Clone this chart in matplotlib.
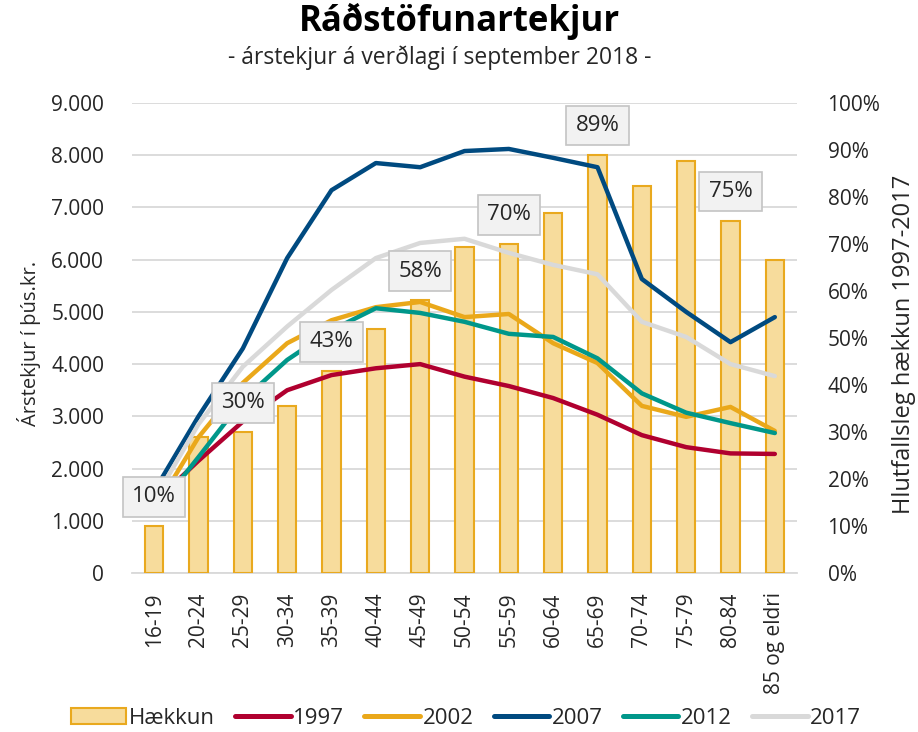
import matplotlib
matplotlib.use("Agg")
import matplotlib.pyplot as plt
from matplotlib.ticker import FuncFormatter, MultipleLocator
from matplotlib.patches import Patch
from matplotlib.lines import Line2D
import numpy as np

plt.rcParams['font.family'] = ['Open Sans', 'DejaVu Sans']

categories = ["16-19", "20-24", "25-29", "30-34", "35-39", "40-44", "45-49", "50-54",
              "55-59", "60-64", "65-69", "70-74", "75-79", "80-84", "85 og eldri"]
haekkun = [10, 29, 30, 35.5, 43, 52, 58, 69.4, 70, 76.7, 89, 82.4, 87.7, 75, 66.5]
y1997 = [1350, 2150, 2900, 3500, 3790, 3920, 4000, 3760, 3580, 3350, 3030, 2640, 2410, 2290, 2280]
y2002 = [1200, 2600, 3640, 4400, 4840, 5090, 5190, 4900, 4960, 4400, 4020, 3200, 2990, 3180, 2720]
y2007 = [1570, 3000, 4300, 6030, 7330, 7850, 7770, 8080, 8120, 7950, 7770, 5630, 5000, 4420, 4900]
y2012 = [1150, 2220, 3310, 4080, 4650, 5070, 4980, 4810, 4580, 4520, 4110, 3440, 3070, 2870, 2680]
y2017 = [1400, 2850, 3950, 4720, 5420, 6030, 6320, 6400, 6130, 5900, 5720, 4810, 4520, 4000, 3770]
labelled = {0: "10%", 2: "30%", 4: "43%", 6: "58%", 8: "70%", 10: "89%", 13: "75%"}

series = [("1997", y1997, "#b0002f"), ("2002", y2002, "#eaa81a"), ("2007", y2007, "#004a80"),
          ("2012", y2012, "#00978a"), ("2017", y2017, "#d9d9d9")]

fig = plt.figure(figsize=(9.18, 7.32), dpi=100)
ax1 = fig.add_axes([132/918, 1-573/732, (797-132)/918, (573-103)/732])
ax2 = ax1.twinx()
ax3 = ax1.twinx()

x = np.arange(len(categories))
txtc = "#262626"

# left axis: grid
ax1.set_ylim(0, 9000)
ax1.yaxis.set_major_locator(MultipleLocator(1000))
ax1.yaxis.set_major_formatter(FuncFormatter(lambda v, p: f"{int(v):,}".replace(",", ".")))
ax1.grid(axis='y', color='#d9d9d9', linewidth=1.3)
ax1.set_axisbelow(True)
ax1.set_xlim(-0.5, 14.5)
ax1.set_xticks(x)
ax1.set_xticklabels(categories, rotation=90, fontsize=15, color=txtc)
ax1.tick_params(axis='both', length=0, colors=txtc)
ax1.tick_params(axis='y', labelsize=15, pad=20)
ax1.tick_params(axis='x', pad=14)
for s in ax1.spines.values():
    s.set_visible(False)
ax1.spines['bottom'].set_visible(True)
ax1.spines['bottom'].set_color('#d9d9d9')
ax1.spines['bottom'].set_linewidth(1.3)

# right axis: bars
ax2.set_ylim(0, 100)
ax2.yaxis.set_major_locator(MultipleLocator(10))
ax2.yaxis.set_major_formatter(FuncFormatter(lambda v, p: f"{int(v)}%"))
ax2.tick_params(axis='y', length=0, labelsize=15, pad=22, colors=txtc)
for s in ax2.spines.values():
    s.set_visible(False)
ax2.bar(x, haekkun, width=0.41, color="#f7dc9c", edgecolor="#e9a91e", linewidth=1.5)

# axis titles
fig.text(29/918, 1-343/732, "Árstekjur í þús.kr.", rotation=90, ha='center', va='center',
         fontsize=14.5, color=txtc)
fig.text(904/918, 1-344/732, "Hlutfallsleg hækkun 1997-2017", rotation=90, ha='center',
         va='center', fontsize=17, color=txtc)

# lines axis
ax3.set_ylim(0, 9000)
ax3.set_yticks([])
for s in ax3.spines.values():
    s.set_visible(False)
for name, vals, col in series:
    ax3.plot(x, vals, color=col, linewidth=3.2, solid_capstyle='round', solid_joinstyle='round')

for i, lab in labelled.items():
    ax3.annotate(lab, xy=(x[i], haekkun[i]), xycoords=ax2.transData, xytext=(0, 21),
                 textcoords='offset points', ha='center', va='center', fontsize=16, color=txtc,
                 bbox=dict(boxstyle='square,pad=0.42', fc='#f2f2f2', ec='#c4c4c4', lw=1.2),
                 zorder=10)

# title
fig.text(459/918, 1-21/732, "Ráðstöfunartekjur", ha='center', va='center', fontsize=25,
         fontweight='bold', color='black')
fig.text(440/918, 1-58/732, "- árstekjur á verðlagi í september 2018 -", ha='center',
         va='center', fontsize=16.5, color=txtc)

handles = [Patch(facecolor="#f7dc9c", edgecolor="#e9a91e", linewidth=1.5, label="Hækkun")]
for name, vals, col in series:
    handles.append(Line2D([0], [0], color=col, linewidth=3.6, solid_capstyle='round', label=name))
fig.legend(handles=handles, loc='center', bbox_to_anchor=(466/918, 1-718/732), ncol=6,
           frameon=False, fontsize=16, handlelength=2.5, handletextpad=0.12,
           columnspacing=0.9, labelcolor=txtc, borderpad=0.1)

fig.savefig("out.png", dpi=100)
